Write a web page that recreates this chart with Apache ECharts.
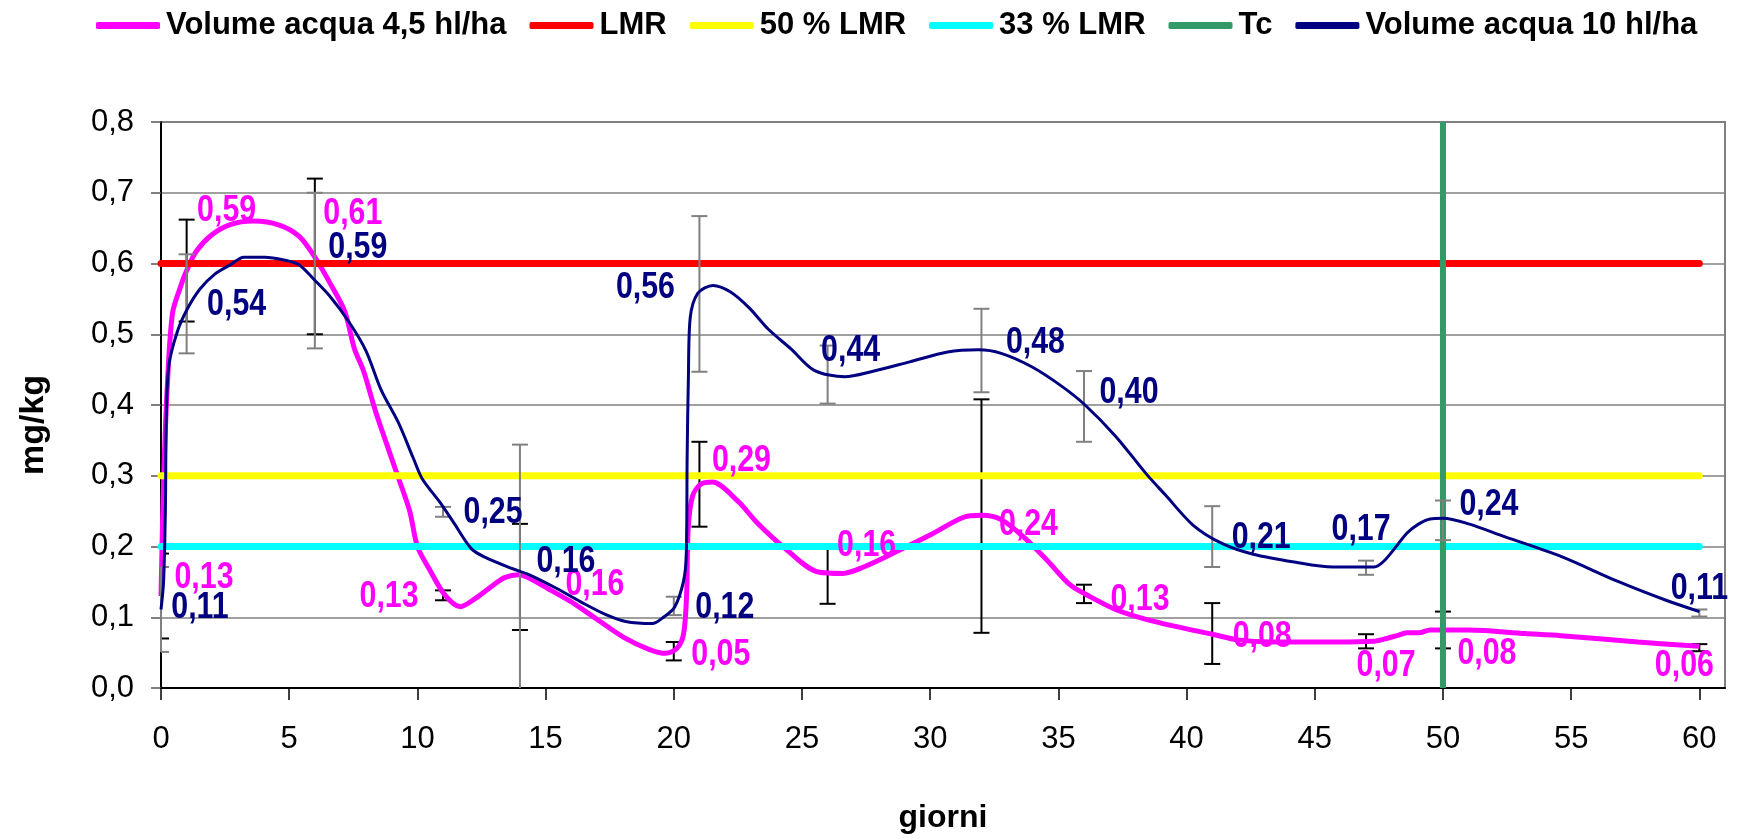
<!DOCTYPE html>
<html>
<head>
<meta charset="utf-8">
<script src="https://cdn.jsdelivr.net/npm/echarts@6/dist/echarts.min.js"></script>
<style>
html,body{margin:0;padding:0;background:#fff;}
#chart{width:1740px;height:839px;}
</style>
</head>
<body>
<div id="chart"></div>
<script>
// ---- DATA ----
const xTicks = [0, 5, 10, 15, 20, 25, 30, 35, 40, 45, 50, 55, 60];
const yTicks = [0, 0.1, 0.2, 0.3, 0.4, 0.5, 0.6, 0.7, 0.8];

const sampleDays = [0, 1, 6, 11, 14, 20, 21, 26, 32, 36, 41, 47, 50, 60];

// Volume acqua 4,5 hl/ha (mean values and error half-widths)
const magentaValues = [0.13, 0.59, 0.61, 0.131, 0.157, 0.052, 0.288, 0.158, 0.243, 0.133, 0.077, 0.066, 0.082, 0.057];
const magentaErrors = [0.06, 0.072, 0.11, 0.007, 0.075, 0.013, 0.06, 0.039, 0.165, 0.013, 0.043, 0.01, 0.026, 0.005];

// Volume acqua 10 hl/ha
const navyValues = [0.111, 0.543, 0.59, 0.249, 0.16, 0.116, 0.557, 0.443, 0.477, 0.398, 0.214, 0.17, 0.237, 0.106];
const navyErrors = [0.06, 0.07, 0.11, 0.007, 0.184, 0.013, 0.11, 0.041, 0.059, 0.05, 0.043, 0.01, 0.028, 0.005];

// smoothed curves as drawn in the picture
const magentaCurveDays = [0, 0.1, 0.25, 0.45, 0.77, 1.0, 1.37, 1.96, 2.7, 3.6, 4.64, 5.4, 5.98, 6.58, 7.17, 7.54, 7.9, 8.36, 8.8, 9.23, 9.7, 10.0, 10.45, 11.06, 11.67, 12.28, 12.98, 13.4, 13.94, 14.37, 15.07, 15.94, 16.81, 18.03, 19.08, 19.69, 20.12, 20.38, 20.5, 20.56, 20.73, 21.05, 21.5, 22.5, 23.24, 24.29, 25.63, 26.6, 27.4, 28.75, 30.09, 31.28, 32.02, 32.77, 33.66, 34.55, 35.45, 36.19, 37.23, 38.42, 39.7, 41.0, 42.0, 43.3, 45.8, 47.3, 47.7, 48.2, 48.6, 49.06, 49.5, 51.0, 53.2, 54.6, 57.6, 60];
const magentaCurveValues = [0.13, 0.29, 0.43, 0.53, 0.568, 0.59, 0.617, 0.64, 0.655, 0.66, 0.654, 0.638, 0.61, 0.573, 0.532, 0.48, 0.448, 0.392, 0.345, 0.3, 0.25, 0.2, 0.169, 0.132, 0.115, 0.127, 0.146, 0.156, 0.16, 0.155, 0.141, 0.123, 0.102, 0.072, 0.054, 0.049, 0.056, 0.076, 0.132, 0.225, 0.271, 0.288, 0.291, 0.264, 0.234, 0.199, 0.164, 0.162, 0.171, 0.194, 0.218, 0.241, 0.244, 0.238, 0.213, 0.181, 0.146, 0.13, 0.111, 0.097, 0.086, 0.076, 0.068, 0.065, 0.065, 0.066, 0.069, 0.074, 0.078, 0.078, 0.082, 0.082, 0.077, 0.074, 0.065, 0.059];

const navyCurveDays = [0, 0.1, 0.17, 0.21, 0.31, 0.64, 1.03, 1.52, 2.1, 2.7, 3.23, 4.05, 4.79, 5.39, 5.98, 6.58, 7.32, 7.99, 8.59, 9.26, 9.85, 10.2, 10.89, 11.41, 12.1, 12.63, 13.68, 14.37, 15.42, 16.46, 17.33, 18.12, 19.16, 19.6, 20.03, 20.38, 20.49, 20.52, 20.57, 20.64, 20.94, 21.53, 22.2, 22.95, 23.69, 24.58, 25.48, 26.67, 27.7, 29.2, 30.68, 31.88, 32.77, 33.96, 35.15, 36.04, 37.23, 38.42, 39.17, 40.26, 41.4, 42.6, 44.2, 45.7, 47.3, 47.74, 48.6, 49.06, 49.5, 50, 51.0, 52.4, 54.6, 56.8, 58.7, 60];
const navyCurveValues = [0.111, 0.15, 0.25, 0.388, 0.457, 0.504, 0.536, 0.564, 0.585, 0.598, 0.609, 0.609, 0.605, 0.598, 0.577, 0.554, 0.518, 0.477, 0.421, 0.375, 0.324, 0.295, 0.262, 0.234, 0.197, 0.185, 0.169, 0.16, 0.141, 0.12, 0.104, 0.094, 0.091, 0.1, 0.114, 0.151, 0.19, 0.324, 0.44, 0.523, 0.558, 0.569, 0.56, 0.537, 0.507, 0.479, 0.449, 0.44, 0.447, 0.461, 0.475, 0.478, 0.473, 0.454, 0.426, 0.4, 0.356, 0.303, 0.273, 0.23, 0.204, 0.189, 0.178, 0.171, 0.171, 0.181, 0.219, 0.232, 0.239, 0.24, 0.232, 0.214, 0.186, 0.151, 0.124, 0.108];

// reference levels
const refNames = ['LMR', '50 % LMR', '33 % LMR'];
const refLevels = [0.6, 0.3, 0.2];
const refSpan = [0, 60];
const tcDay = 50;

// ---- LAYOUT (label offsets in px, not data) ----
const magentaLabelOffsets = [[43,-18],[40,-60],[38,-43],[-54,1],[75,8],[47,4],[42,-23],[39,-30],[47,9],[56,6],[50,3],[20,24],[44,24],[-15,18]];
const navyLabelOffsets = [[39,-2],[50,1],[43,-23],[50,1],[46,-13],[51,2],[-54,-6],[23,-24],[54,-8],[45,-14],[49,1],[-5,-38],[46,-16],[0,-24]];

const REG = "'Liberation Sans',Arial,sans-serif";
const MAGENTA = '#FF00FF', NAVY = '#000080';
const refColors = ['#FF0000', '#FFFF00', '#00FFFF'];
const TC_COLOR = '#339966';

const comma = (v, d) => v.toFixed(d).replace('.', ',');
const zip = (xs, ys) => xs.map((x, i) => [x, ys[i]]);

function errorBarSeries(values, errors, color, z) {
  return {
    type: 'custom', z: z, silent: true,
    data: sampleDays.map((d, i) => [d, values[i] - errors[i], values[i] + errors[i]]),
    encode: { x: 0, y: [1, 2] },
    renderItem: function (params, api) {
      const cs = params.coordSys;
      const left = cs.x, right = cs.x + cs.width, top = cs.y, bottom = cs.y + cs.height;
      const x = api.value(0);
      const lo = api.coord([x, api.value(1)]);
      const hi = api.coord([x, api.value(2)]);
      const hw = 8;
      const st = { stroke: color, lineWidth: 2 };
      const cx1 = Math.max(left, lo[0] - hw), cx2 = Math.min(right, lo[0] + hw);
      const children = [
        { type: 'line', shape: { x1: lo[0], y1: Math.min(lo[1], bottom), x2: hi[0], y2: Math.max(hi[1], top) }, style: st }
      ];
      if (lo[1] <= bottom) children.push({ type: 'line', shape: { x1: cx1, y1: lo[1], x2: cx2, y2: lo[1] }, style: st });
      if (hi[1] >= top) children.push({ type: 'line', shape: { x1: cx1, y1: hi[1], x2: cx2, y2: hi[1] }, style: st });
      return { type: 'group', children: children };
    }
  };
}

function labelSeries(values, offsets, color) {
  return {
    type: 'custom', z: 20, silent: true,
    data: sampleDays.map((d, i) => [d, values[i], i]),
    encode: { x: 0, y: 1 },
    renderItem: function (params, api) {
      const i = api.value(2);
      const p = api.coord([api.value(0), api.value(1)]);
      const off = offsets[i];
      return {
        type: 'text', x: p[0] + off[0], y: p[1] + off[1], scaleX: 0.82, scaleY: 1,
        style: {
          text: comma(api.value(1), 2), fill: color,
          fontFamily: REG, fontWeight: 'bold', fontSize: 37,
          align: 'center', verticalAlign: 'middle'
        }
      };
    }
  };
}

const series = [];
series.push(errorBarSeries(magentaValues, magentaErrors, '#000000', 2));
series.push({
  name: 'Volume acqua 4,5 hl/ha', type: 'line', z: 3,
  data: zip(magentaCurveDays, magentaCurveValues),
  showSymbol: false, symbol: 'none', smooth: 0.3,
  lineStyle: { color: MAGENTA, width: 5 }, itemStyle: { color: MAGENTA }
});
refLevels.forEach((lv, i) => {
  series.push({
    name: refNames[i], type: 'line', z: 4,
    data: refSpan.map(x => [x, lv]),
    showSymbol: false, symbol: 'none',
    lineStyle: { color: refColors[i], width: 7, cap: 'round' }, itemStyle: { color: refColors[i] }
  });
});
series.push({
  name: 'Tc', type: 'line', z: 5,
  data: [[tcDay, 0], [tcDay, 0.8]],
  showSymbol: false, symbol: 'none',
  lineStyle: { color: TC_COLOR, width: 6 }, itemStyle: { color: TC_COLOR }
});
series.push(errorBarSeries(navyValues, navyErrors, '#808080', 6));
series.push({
  name: 'Volume acqua 10 hl/ha', type: 'line', z: 7,
  data: zip(navyCurveDays, navyCurveValues),
  showSymbol: false, symbol: 'none', smooth: 0.3,
  lineStyle: { color: NAVY, width: 3 }, itemStyle: { color: NAVY }
});
series.push(labelSeries(magentaValues, magentaLabelOffsets, MAGENTA));
series.push(labelSeries(navyValues, navyLabelOffsets, NAVY));

const chart = echarts.init(document.getElementById('chart'), null, { renderer: 'canvas' });
chart.setOption({
  backgroundColor: '#ffffff',
  animation: false,
  legend: {
    data: ['Volume acqua 4,5 hl/ha', 'LMR', '50 % LMR', '33 % LMR', 'Tc', 'Volume acqua 10 hl/ha'],
    left: 91, top: 5, icon: 'roundRect', itemWidth: 64, itemHeight: 7, itemGap: 23,
    textStyle: { fontFamily: REG, fontWeight: 'bold', fontSize: 31, color: '#000', padding: [0, 0, 0, 1] }
  },
  grid: { left: 161, right: 15, top: 122, bottom: 143, show: true, borderColor: '#808080', borderWidth: 2 },
  xAxis: {
    type: 'value', min: 0, max: 61, interval: 5,
    name: 'giorni', nameLocation: 'middle', nameGap: 114,
    nameTextStyle: { fontFamily: REG, fontWeight: 'bold', fontSize: 32, color: '#000' },
    axisLine: { show: true, onZero: false, lineStyle: { color: '#000', width: 2 } },
    axisTick: { show: true, length: 12, lineStyle: { color: '#000', width: 1.5 }, customValues: xTicks },
    axisLabel: { customValues: xTicks, margin: 36, fontFamily: REG, fontSize: 31, color: '#000', formatter: v => String(v) },
    splitLine: { show: false }
  },
  yAxis: {
    type: 'value', min: 0, max: 0.8, interval: 0.1,
    name: 'mg/kg', nameLocation: 'middle', nameGap: 110, nameRotate: 90,
    nameTextStyle: { fontFamily: REG, fontWeight: 'bold', fontSize: 34, color: '#000', padding: [0, 40, 0, 0] },
    axisLine: { show: true, lineStyle: { color: '#000', width: 2 } },
    axisTick: { show: true, length: 10, lineStyle: { color: '#555', width: 1.5 } },
    axisLabel: { margin: 27, fontFamily: REG, fontSize: 31, color: '#000', formatter: v => comma(v, 1) },
    splitLine: { show: true, lineStyle: { color: '#808080', width: 1.5 } }
  },
  series: series
});
</script>
</body>
</html>
